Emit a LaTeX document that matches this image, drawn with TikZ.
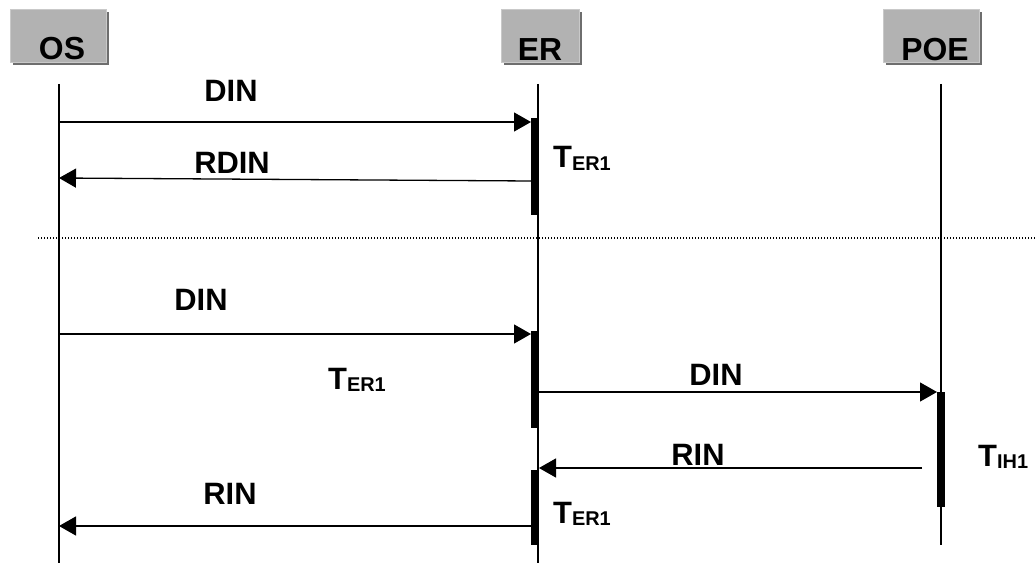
\documentclass[tikz,border=0pt]{standalone}
\usepackage{fontspec}
\setmainfont{Liberation Sans}
\usetikzlibrary{arrows.meta,shadows}
\definecolor{boxgray}{RGB}{178,178,178}
\definecolor{shadowgray}{RGB}{110,110,110}
\begin{document}
\begin{tikzpicture}[x=1bp,y=-1bp,
  headbox/.style={fill=boxgray, draw=boxgray!70!white, line width=0.8bp,
    minimum height=53bp, inner sep=0pt,
    drop shadow={shadow xshift=3bp, shadow yshift=-3bp, fill=shadowgray, opacity=1},
    font=\fontsize{32}{32}\selectfont\bfseries},
  lifeline/.style={line width=1.3bp},
  msg/.style={line width=1.3bp, -{Triangle[length=17bp,width=19bp]}},
  actbar/.style={fill=black, inner sep=0pt, minimum width=8bp},
  lbl/.style={font=\fontsize{31}{31}\selectfont\bfseries, inner sep=0pt},
  tlbl/.style={font=\fontsize{31}{31}\selectfont\bfseries, inner sep=0pt, anchor=base west},
  sep/.style={line width=1.3bp, dash pattern=on 1.3bp off 1.7bp}
]
\newcommand{\tsub}[1]{T\raisebox{-2.5bp}{\fontsize{20}{20}\selectfont #1}}
\path[use as bounding box] (0,0) rectangle (1036,563);
\fill[white] (0,0) rectangle (1036,563);

% heads
\node[headbox, minimum width=96bp] (os) at (58,35.5) {\smash{\raisebox{-24bp}{\hspace*{8bp}OS}}};
\node[headbox, minimum width=78bp] (er) at (540,35.5) {\smash{\raisebox{-25bp}{ER}}};
\node[headbox, minimum width=96bp] (poe) at (931,35.5) {\smash{\raisebox{-25bp}{\hspace*{8bp}POE}}};

% lifelines
\coordinate (osTop) at (59,84);  \coordinate (osBot) at (59,563);
\coordinate (erTop) at (538,84); \coordinate (erBot) at (538,563);
\coordinate (poeTop) at (941,84); \coordinate (poeBot) at (941,545);
\draw[lifeline] (osTop) -- (osBot);
\draw[lifeline] (erTop) -- (erBot);
\draw[lifeline] (poeTop) -- (poeBot);

% activation bars
\node[actbar, minimum height=97bp] (bar1) at (535,166.5) {};
\node[actbar, minimum height=97bp] (bar2) at (535,379) {};
\node[actbar, minimum height=115bp] (bar3) at (941,449.5) {};
\node[actbar, minimum height=75bp] (bar4) at (535,507.5) {};

% separator
\coordinate (sepL) at (38,238); \coordinate (sepR) at (1036,238);
\draw[sep] (sepL) -- (sepR);

% messages
\coordinate (m1s) at (59,122);  \coordinate (m1e) at (531,122);
\coordinate (m2s) at (531,181); \coordinate (m2e) at (59,178);
\coordinate (m3s) at (59,334);  \coordinate (m3e) at (531,334);
\coordinate (m4s) at (539,392); \coordinate (m4e) at (937,392);
\coordinate (m5s) at (922,468); \coordinate (m5e) at (539,468);
\coordinate (m6s) at (531,526); \coordinate (m6e) at (59,526);
\draw[msg] (m1s) -- (m1e);
\draw[msg] (m2s) -- (m2e);
\draw[msg] (m3s) -- (m3e);
\draw[msg] (m4s) -- (m4e);
\draw[msg] (m5s) -- (m5e);
\draw[msg] (m6s) -- (m6e);

% message labels
\node[lbl] (l1) at (231,91) {DIN};
\node[lbl] (l2) at (232,163) {RDIN};
\node[lbl] (l3) at (201,300) {DIN};
\node[lbl] (l4) at (716,375) {DIN};
\node[lbl] (l5) at (698,455) {RIN};
\node[lbl] (l6) at (230,494) {RIN};

% timer labels
\node[tlbl] (t1) at (553,168) {\tsub{ER1}};
\node[tlbl] (t2) at (328,389) {\tsub{ER1}};
\node[tlbl] (t3) at (978,466) {\tsub{IH1}};
\node[tlbl] (t4) at (553,523) {\tsub{ER1}};
\end{tikzpicture}
\end{document}
